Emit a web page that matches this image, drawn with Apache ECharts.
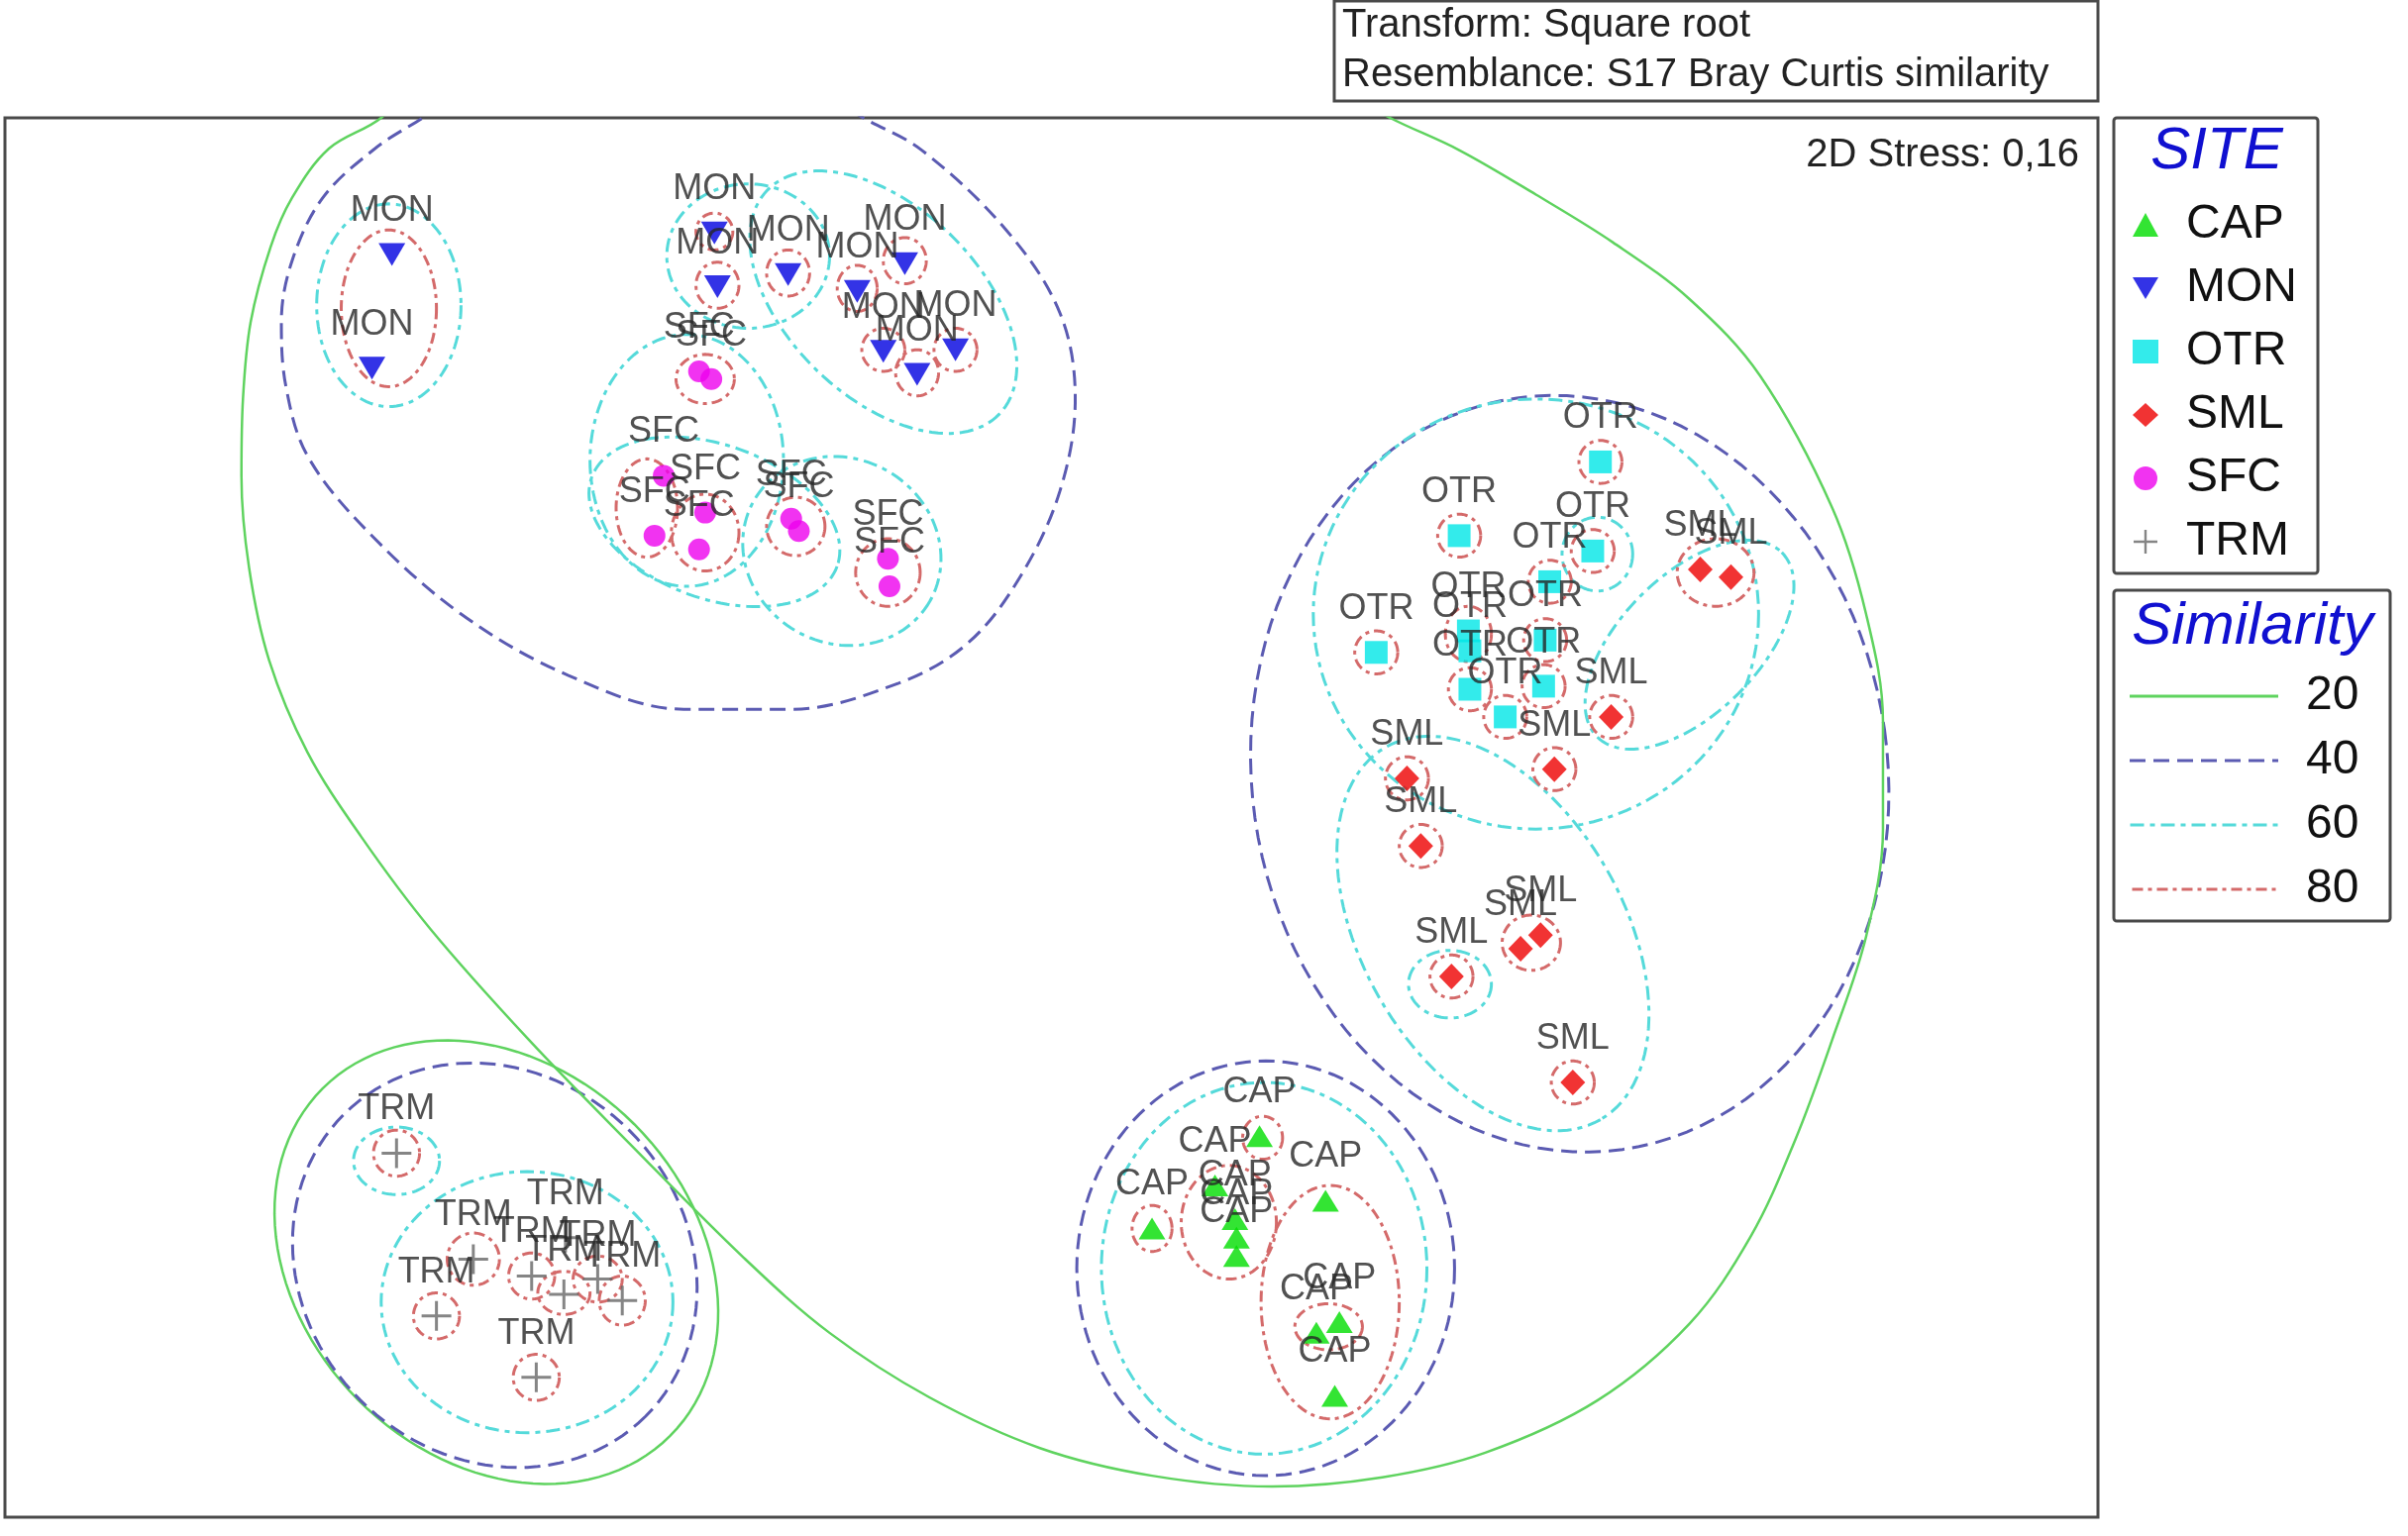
<!DOCTYPE html>
<html><head><meta charset="utf-8">
<script src="https://cdn.jsdelivr.net/npm/echarts@6/dist/echarts.min.js"></script>
<style>html,body{margin:0;padding:0;background:#fff}#c{width:2431px;height:1551px}</style>
</head><body><div id="c"></div>
<script>
// ---- data (NMDS coordinates, arbitrary units) ----
const sites = ['CAP','MON','OTR','SML','SFC','TRM'];
const CAP = [[820,740],[791,772],[863,782],[750,800],[804,794],[805,806],[805,818],[872,861],[857,868],[869,909]];
const MON = [[255,166],[242,240],[465,152],[467,187],[513,179],[558,190],[589,172],[575,229],[597,244],[622,228]];
const OTR = [[1042,301],[950,349],[1037,359],[1009,379],[896,425],[956,411],[957,424],[1006,417],[957,449],[1005,447],[980,467]];
const SML = [[1107,371],[1127,376],[1049,467],[1012,501],[916,507],[925,551],[990,618],[1003,609],[945,636],[1024,705]];
const SFC = [[455,242],[463,247],[432,310],[426,349],[459,334],[455,358],[515,338],[520,346],[578,364],[579,382]];
const TRM = [[258,751],[308,820],[346,831],[367,843],[389,833],[405,847],[284,857],[349,897],[368,806]];

const similarityLevels = ['20','40','60','80'];
// ellipses: [centerX, centerY, radiusX, radiusY, rotationDeg]
const sim20Ellipses = [[323,822,160,127,45]];
const sim20Contour = [[272,50],[248,77],[214,97],[190,129],[176,161],[163,210],[158,260],[157,310],[162,370],[175,430],[200,490],[235,545],[280,605],[344,677],[410,745],[484,819],[540,868],[605,910],[677,943],[750,961],[828,968],[900,962],[967,946],[1040,912],[1100,862],[1140,805],[1169,742],[1193,677],[1215,610],[1226,540],[1226,470],[1215,400],[1193,331],[1146,245],[1100,195],[1050,158],[1000,127],[950,98],[905,77],[860,52]];
const sim40Ellipses = [[1022,504,207,247,-8],[824,826,123,135,0],[322,824,139,124,45]];
const sim40Contour = [[300,60],[275,77],[244,97],[210,129],[190,170],[183,210],[186,252],[200,297],[239,346],[300,400],[370,440],[445,462],[515,462],[585,445],[630,419],[664,376],[690,320],[700,260],[690,204],[655,150],[600,98],[562,77],[535,60]];
const sim60Ellipses = [[253,199,47,66,0],[487,167,53,47,0],[575,197,105,62,44],[447,300,63,82,0],[465,340,85,50,20],[548,359,66,60,30],
  [1000,400,145,140,0],[1040,361,23,24,0],[1100,420,85,45,-45],[972,608,140,85,60],[944,641,27,22,0],
  [823,826,106,121,0],[343,848,95,85,0],[258,756,28,22,0]];
const sim80Ellipses = [[253,201,31,51,0],[465,151,12,12,0],[467,186,14,15,0],[513,178,14,15,0],[558,188,13,15,0],[589,170,14,15,0],[575,228,14,14,0],[597,243,14,15,0],[622,228,14,14,0],
  [459,247,19,16,0],[421,331,20,32,0],[459,347,22,25,0],[518,343,19,19,0],[578,373,21,22,0],
  [1042,301,14,14,0],[950,349,14,14,0],[1037,359,14,14,0],[1009,379,14,14,0],[896,425,14,14,0],[956,413,15,18,0],[1006,417,14,14,0],[957,449,14,14,0],[1005,447,14,14,0],[980,467,14,14,0],
  [1117,373,25,22,0],[1049,467,14,14,0],[1012,501,14,14,0],[916,507,14,14,0],[925,551,14,14,0],[997,614,19,18,0],[945,636,14,14,0],[1024,705,14,14,0],
  [822,741,13,14,0],[750,800,13,15,0],[800,796,31,37,0],[866,848,45,76,0],[865,864,22,15,0],
  [258,751,15,15,0],[308,820,17,17,0],[346,831,15,15,0],[367,842,17,14,0],[389,833,16,15,0],[405,847,15,16,0],[284,857,15,15,0],[349,897,15,15,0]];

// ---- styling ----
const FONT = 'Liberation Sans, Arial, sans-serif';
const siteColors = {CAP:'#00dd00', MON:'#0000e0', OTR:'#00e6e6', SML:'#ee0000', SFC:'#ee00ee', TRM:'#666666'};
const downTri = 'path://M0,0L20,0L10,17Z';
const plusPath = 'path://M9,0h2v9h9v2h-9v9h-2v-9h-9v-2h9z';
const siteSymbols = {CAP:'triangle', MON:downTri, OTR:'rect', SML:'diamond', SFC:'circle', TRM:plusPath};
const siteSizes = {CAP:[27,22], MON:[27,23], OTR:23, SML:[25,26], SFC:22, TRM:30};
const siteData = {CAP, MON, OTR, SML, SFC, TRM};
const levelStyle = {
  '20': {color:'#5fd35f', width:2.5, dash:null},
  '40': {color:'#5b5bb2', width:3, dash:[16,8]},
  '60': {color:'#55dada', width:3, dash:[14,6,5,6]},
  '80': {color:'#d46a6a', width:3, dash:[11,5,4,5]}
};
const levelEllipses = {'20':sim20Ellipses,'40':sim40Ellipses,'60':sim60Ellipses,'80':sim80Ellipses};

function dashIcon(pattern, w, h){
  if(!pattern) return 'path://M0,0h'+w+'v'+h+'h-'+w+'z';
  let d='', x=0, i=0;
  while(x < w){ const len = pattern[i % pattern.length]; if(i%2===0){ const l=Math.min(len,w-x); d+='M'+x+',0h'+l+'v'+h+'h-'+l+'z'; } x+=len; i++; }
  return 'path://'+d;
}

function ellipseRenderer(st){
  return function(params, api){
    const c = api.coord([api.value(0), api.value(1)]);
    const s = api.size([api.value(2), api.value(3)]);
    const w = Math.abs(s[0]), h = Math.abs(s[1]);
    const th = api.value(4)*Math.PI/180;
    const pts = [];
    for(let i=0;i<120;i++){
      const t = i/120*2*Math.PI;
      const ex = w*Math.cos(t), ey = h*Math.sin(t);
      pts.push([c[0]+ex*Math.cos(th)-ey*Math.sin(th), c[1]+ex*Math.sin(th)+ey*Math.cos(th)]);
    }
    return {type:'polygon', shape:{points:pts}, silent:true,
      style:{fill:'none', stroke:st.color, lineWidth:st.width, lineDash:st.dash}};
  };
}

const series = [];
similarityLevels.forEach(function(lv){
  const st = levelStyle[lv];
  series.push({type:'custom', name:lv, coordinateSystem:'cartesian2d', data:levelEllipses[lv],
    dimensions:['x','y','rx','ry','rot'], encode:{x:0,y:1}, renderItem:ellipseRenderer(st),
    itemStyle:{color:st.color}, silent:true, z:2});
});
series.push({type:'line', name:'20', data:sim20Contour, smooth:0.35, symbol:'none', silent:true, clip:true,
  lineStyle:{color:levelStyle['20'].color, width:levelStyle['20'].width}, itemStyle:{color:levelStyle['20'].color}, z:2});
series.push({type:'line', name:'40', data:sim40Contour, smooth:0.35, symbol:'none', silent:true, clip:true,
  lineStyle:{color:levelStyle['40'].color, width:levelStyle['40'].width, type:levelStyle['40'].dash}, itemStyle:{color:levelStyle['40'].color}, z:2});
sites.forEach(function(s){
  series.push({type:'scatter', name:s, data:siteData[s], symbol:siteSymbols[s], symbolSize:siteSizes[s],
    itemStyle:{color:siteColors[s]}, z:5,
    label:{show:true, formatter:s, position:'inside', offset:[0,-44], fontSize:36, fontFamily:FONT, color:'#262626'}});
});

const chart = echarts.init(document.getElementById('c'));
chart.setOption({
  animation:false,
  backgroundColor:'#ffffff',
  grid:{left:5, top:119, width:2113, height:1413, show:true, borderColor:'#4a4a4a', borderWidth:3, backgroundColor:'transparent'},
  xAxis:{type:'value', min:3, max:1366, show:false},
  yAxis:{type:'value', min:77, max:988, inverse:true, show:false},
  legend:[
    {orient:'vertical', left:2153, top:203, padding:0, itemWidth:26, itemHeight:24, itemGap:16, selectedMode:false,
     data:sites.map(function(s){return {name:s, icon:siteSymbols[s]};}),
     textStyle:{fontSize:48, lineHeight:48, color:'#111', fontFamily:FONT, padding:[0,0,0,23]}},
    {orient:'vertical', left:2150, top:679, padding:0, itemWidth:150, itemHeight:3, itemGap:17, selectedMode:false,
     data:similarityLevels.map(function(l){return {name:l, icon:dashIcon(levelStyle[l].dash,150,3)};}),
     textStyle:{fontSize:48, lineHeight:48, color:'#111', fontFamily:FONT, padding:[0,0,0,23]}}
  ],
  graphic:[
    {type:'rect', shape:{x:1347, y:1, width:771, height:101}, style:{fill:'#fff', stroke:'#4a4a4a', lineWidth:3}},
    {type:'text', x:1355, y:26, style:{text:'Transform: Square root', fontSize:40, fontFamily:FONT, fill:'#222', verticalAlign:'middle', textVerticalAlign:'middle'}},
    {type:'text', x:1355, y:76, style:{text:'Resemblance: S17 Bray Curtis similarity', fontSize:40, fontFamily:FONT, fill:'#222', verticalAlign:'middle', textVerticalAlign:'middle'}},
    {type:'text', x:2099, y:157, z:10, style:{text:'2D Stress: 0,16', fontSize:40, fontFamily:FONT, fill:'#222', align:'right', textAlign:'right', verticalAlign:'middle', textVerticalAlign:'middle'}},
    {type:'rect', shape:{x:2134, y:119, width:206, height:460, r:3}, style:{fill:'none', stroke:'#4a4a4a', lineWidth:3}},
    {type:'text', x:2238, y:153, style:{text:'SITE', fontSize:60, fontStyle:'italic', fontFamily:FONT, fill:'#1010d0', align:'center', textAlign:'center', verticalAlign:'middle', textVerticalAlign:'middle'}},
    {type:'rect', shape:{x:2134, y:596, width:279, height:334, r:3}, style:{fill:'none', stroke:'#4a4a4a', lineWidth:3}},
    {type:'text', x:2274, y:633, style:{text:'Similarity', fontSize:60, fontStyle:'italic', fontFamily:FONT, fill:'#1010d0', align:'center', textAlign:'center', verticalAlign:'middle', textVerticalAlign:'middle'}}
  ],
  series:series
});
</script></body></html>
